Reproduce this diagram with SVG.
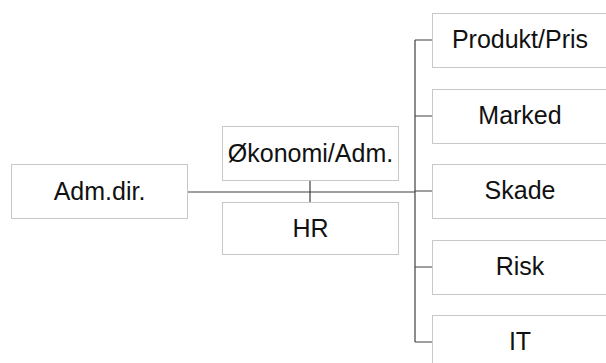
<svg xmlns="http://www.w3.org/2000/svg" width="606" height="363" viewBox="0 0 606 363">
<style>
.box{fill:#fff;stroke:#c8c8c8;stroke-width:1}
.lbl{font-family:"Liberation Sans",Arial,sans-serif;font-size:25px;fill:#111;text-anchor:middle}
.con{stroke:#404040;stroke-width:1.2;fill:none}
</style>
<rect width="606" height="363" fill="#fff"/>
<g id="connectors">
<path class="con" d="M187 192H415M310 180V202M415 40V342M415 40H432M415 116H432M415 191H432M415 267H432M415 342H432"/>
</g>
<g id="adm"><rect class="box" x="11.5" y="164.5" width="176" height="54"/><text class="lbl" x="99.5" y="199.5">Adm.dir.</text></g>
<g id="okonomi"><rect class="box" x="222.5" y="126.5" width="176" height="54"/><text class="lbl" x="310.5" y="162">Økonomi/Adm.</text></g>
<g id="hr"><rect class="box" x="222.5" y="202.5" width="176" height="52"/><text class="lbl" x="310.5" y="237">HR</text></g>
<g id="produkt"><rect class="box" x="432.5" y="13.5" width="176" height="54"/><text class="lbl" x="520" y="48">Produkt/Pris</text></g>
<g id="marked"><rect class="box" x="432.5" y="89.5" width="176" height="54"/><text class="lbl" x="520" y="124">Marked</text></g>
<g id="skade"><rect class="box" x="432.5" y="164.5" width="176" height="54"/><text class="lbl" x="520" y="199">Skade</text></g>
<g id="risk"><rect class="box" x="432.5" y="240.5" width="176" height="54"/><text class="lbl" x="520" y="275">Risk</text></g>
<g id="it"><rect class="box" x="432.5" y="315.5" width="176" height="54"/><text class="lbl" x="520" y="350">IT</text></g>
</svg>
